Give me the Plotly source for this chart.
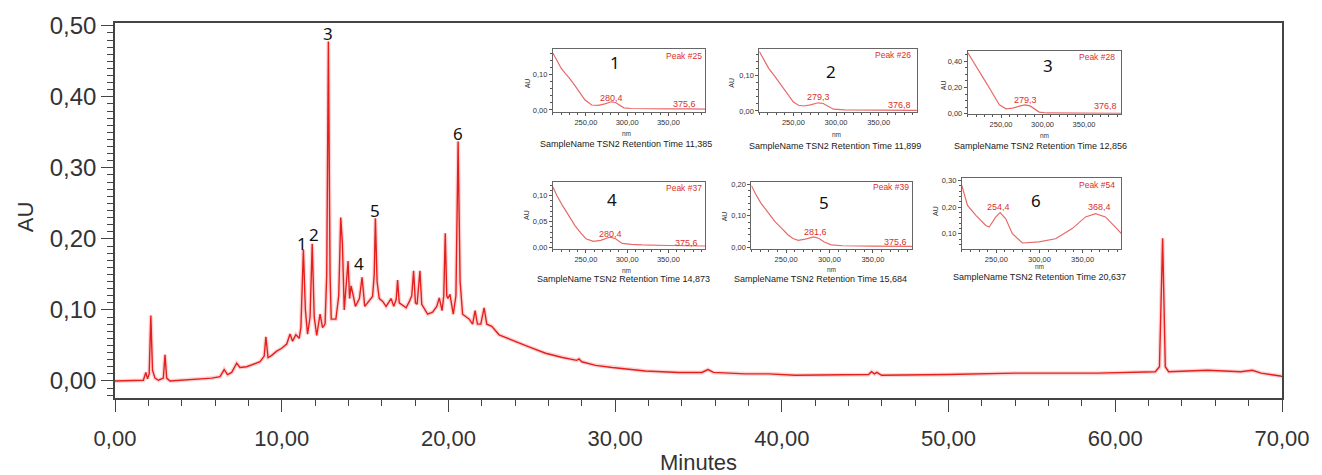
import plotly.graph_objects as go

# ---------------- main chromatogram data (minutes, AU) ----------------
time_min = [0.0, 1.0, 1.7, 1.85, 1.95, 2.05, 2.15, 2.25, 2.4, 2.6, 2.9, 3.0, 3.1, 3.3, 4.0, 5.0,
            5.8, 6.3, 6.55, 6.75, 7.0, 7.3, 7.5, 7.9, 8.3, 8.7, 8.95, 9.05, 9.18, 9.4, 9.7, 10.0,
            10.3, 10.5, 10.65, 10.85, 11.05, 11.15, 11.3, 11.42, 11.55, 11.7, 11.83, 11.95, 12.1,
            12.3, 12.45, 12.6, 12.7, 12.8, 12.9, 12.97, 13.25, 13.42, 13.54, 13.64, 13.75, 13.86,
            13.98, 14.07, 14.16, 14.3, 14.42, 14.66, 14.82, 14.98, 15.26, 15.45, 15.55, 15.62,
            15.72, 15.85, 16.06, 16.26, 16.56, 16.72, 16.87, 16.95, 17.05, 17.46, 17.66, 17.8,
            17.91, 18.02, 18.12, 18.29, 18.4, 18.75, 19.05, 19.3, 19.45, 19.62, 19.72, 19.81,
            19.9, 19.97, 20.09, 20.29, 20.45, 20.58, 20.7, 20.85, 21.25, 21.45, 21.6, 21.74,
            21.94, 22.14, 22.3, 22.6, 23.04, 23.84, 24.83, 25.83, 26.83, 27.7, 27.83, 28.0,
            28.83, 29.82, 31.82, 33.81, 35.2, 35.57, 35.9, 37.8, 39.2, 40.8, 43.8, 45.2, 45.38,
            45.55, 45.7, 45.98, 50.0, 53.96, 58.95, 62.4, 62.65, 62.84, 63.0, 63.2, 65.53,
            67.52, 68.22, 68.75, 69.9, 70.0]
au = [0.000, 0.000, 0.001, 0.012, 0.003, 0.010, 0.092, 0.015, 0.004, 0.001, 0.004, 0.037, 0.004,
      0.000, 0.001, 0.002, 0.004, 0.006, 0.016, 0.009, 0.012, 0.025, 0.019, 0.020, 0.023, 0.027,
      0.035, 0.062, 0.033, 0.036, 0.042, 0.046, 0.052, 0.066, 0.056, 0.065, 0.060, 0.075, 0.185,
      0.100, 0.066, 0.090, 0.193, 0.090, 0.064, 0.094, 0.075, 0.080, 0.150, 0.478, 0.150, 0.087,
      0.087, 0.120, 0.230, 0.194, 0.100, 0.141, 0.169, 0.116, 0.134, 0.119, 0.105, 0.116, 0.146,
      0.105, 0.113, 0.119, 0.150, 0.229, 0.140, 0.116, 0.112, 0.105, 0.116, 0.105, 0.115, 0.142,
      0.110, 0.103, 0.112, 0.120, 0.155, 0.110, 0.108, 0.155, 0.108, 0.094, 0.097, 0.105, 0.117,
      0.099, 0.120, 0.208, 0.120, 0.116, 0.122, 0.094, 0.120, 0.337, 0.140, 0.094, 0.087, 0.080,
      0.099, 0.080, 0.080, 0.103, 0.080, 0.077, 0.065, 0.057, 0.048, 0.039, 0.033, 0.029, 0.031,
      0.027, 0.022, 0.019, 0.014, 0.012, 0.012, 0.016, 0.012, 0.010, 0.010, 0.008, 0.008, 0.009,
      0.013, 0.010, 0.012, 0.008, 0.009, 0.011, 0.011, 0.013, 0.020, 0.201, 0.020, 0.013, 0.015,
      0.013, 0.015, 0.011, 0.007, 0.006]

peak_labels = ["1", "2", "3", "4", "5", "6"]
peak_label_t = [11.21, 11.91, 12.8, 14.66, 15.62, 20.6]
peak_label_au = [0.194, 0.206, 0.489, 0.165, 0.240, 0.349]

x_ticks = [0, 10, 20, 30, 40, 50, 60, 70]
y_ticks = [0.0, 0.1, 0.2, 0.3, 0.4, 0.5]

# ---------------- inset UV spectra (nm, AU) ----------------
spec1_nm = [210, 215, 220, 225, 230, 237, 243, 249, 257, 265, 273, 281, 286, 290, 296, 305, 320, 350, 375, 395]
spec1_au = [0.161, 0.140, 0.118, 0.103, 0.090, 0.068, 0.048, 0.028, 0.014, 0.013, 0.017, 0.023, 0.021,
            0.015, 0.006, 0.004, 0.003, 0.003, 0.003, 0.002]
spec2_nm = [210, 215, 221, 228, 235, 240, 246, 250, 256, 262, 270, 279, 285, 290, 297, 310, 340, 377, 395]
spec2_au = [0.167, 0.145, 0.120, 0.098, 0.075, 0.060, 0.040, 0.025, 0.016, 0.014, 0.017, 0.023, 0.021,
            0.014, 0.005, 0.003, 0.002, 0.002, 0.002]
spec3_nm = [210, 217, 224, 230, 236, 242, 248, 256, 264, 272, 279, 285, 290, 296, 305, 340, 377, 395]
spec3_au = [0.464, 0.395, 0.324, 0.258, 0.196, 0.130, 0.069, 0.038, 0.043, 0.058, 0.068, 0.060, 0.040,
            0.013, 0.006, 0.005, 0.005, 0.004]
spec4_nm = [210, 215, 221, 228, 237, 244, 250, 259, 268, 275, 280, 286, 294, 305, 318, 350, 376, 395]
spec4_au = [0.117, 0.100, 0.083, 0.064, 0.042, 0.028, 0.017, 0.012, 0.014, 0.018, 0.020, 0.017, 0.008,
            0.006, 0.005, 0.004, 0.004, 0.003]
spec5_nm = [210, 215, 221, 229, 237, 245, 252, 258, 264, 272, 282, 288, 294, 302, 315, 350, 376, 395]
spec5_au = [0.196, 0.168, 0.140, 0.110, 0.082, 0.060, 0.040, 0.028, 0.022, 0.026, 0.033, 0.028, 0.017,
            0.008, 0.005, 0.004, 0.004, 0.003]
spec6_nm = [210, 216.6, 226.3, 237.8, 241.7, 249.4, 254.4, 260.9, 268.6, 280.2, 299.4, 318.7, 338,
            353.4, 365, 376.5, 388, 395]
spec6_au = [0.281, 0.206, 0.169, 0.131, 0.125, 0.163, 0.179, 0.156, 0.100, 0.065, 0.069, 0.081, 0.119,
            0.163, 0.175, 0.163, 0.125, 0.100]

inset_numbers = ["1", "2", "3", "4", "5", "6"]
inset_peak_ids = ["Peak #25", "Peak #26", "Peak #28", "Peak #37", "Peak #39", "Peak #54"]
inset_retention = ["11,385", "11,899", "12,856", "14,873", "15,684", "20,637"]
inset_max_a = ["280,4", "279,3", "279,3", "280,4", "281,6", "254,4"]
inset_max_b = ["375,6", "376,8", "376,8", "375,6", "375,6", "368,4"]
inset_nm_ticks = [250, 300, 350]
inset_y_ticks = [[0.0, 0.1], [0.0, 0.1], [0.0, 0.2, 0.4], [0.0, 0.05, 0.1], [0.0, 0.1, 0.2], [0.1, 0.2, 0.3]]

spectra = [(spec1_nm, spec1_au), (spec2_nm, spec2_au), (spec3_nm, spec3_au),
           (spec4_nm, spec4_au), (spec5_nm, spec5_au), (spec6_nm, spec6_au)]

# ---------------- layout geometry (pixels) ----------------
W, H = 1322, 475
L, R, T, B = 115, 37, 19, 77
PW, PH = W - L - R, H - T - B


def px2p(px, py):
    return (px - L) / PW, (H - B - py) / PH


# inset boxes: x0, x1, y0(top), y1(bottom), y range, minor dtick
inset_boxes = [
    dict(x0=554, x1=707, y0=45, y1=109, yr=[-0.006, 0.173], ym=0.02),
    dict(x0=761, x1=919, y0=45, y1=109, yr=[-0.003, 0.175], ym=0.02),
    dict(x0=970, x1=1124, y0=47, y1=111, yr=[-0.002, 0.480], ym=0.05),
    dict(x0=554, x1=707, y0=180, y1=247, yr=[-0.002, 0.126], ym=0.01),
    dict(x0=753, x1=914, y0=180, y1=247, yr=[-0.004, 0.206], ym=0.02),
    dict(x0=964, x1=1124, y0=176, y1=247, yr=[0.044, 0.308], ym=0.02),
]
# text positions per inset (pixels)
inset_text = [
    dict(num=(616, 59), pk=(685, 52), a=(613, 95), b=(686, 101), au=(528, 80), nm=(628, 131), s=(627, 141)),
    dict(num=(833, 68), pk=(895, 51), a=(820, 94), b=(902, 102), au=(733, 79), nm=(838, 132), s=(837, 143)),
    dict(num=(1050, 62), pk=(1100, 53), a=(1028, 97), b=(1108, 103), au=(945, 82), nm=(1047, 133), s=(1043, 143)),
    dict(num=(613, 197), pk=(685, 186), a=(612, 232), b=(688, 241), au=(528, 213), nm=(628, 269), s=(625, 278)),
    dict(num=(826, 200), pk=(893, 185), a=(817, 230), b=(898, 240), au=(727, 214), nm=(833, 268), s=(822, 278)),
    dict(num=(1038, 198), pk=(1100, 183), a=(1001, 205), b=(1102, 205), au=(938, 209), nm=(1042, 265), s=(1042, 276)),
]

RED = "#e3201e"
SPEC = "#e86a68"
DARK = "#333333"
NUMFONT = "Noto Sans"

fig = go.Figure()

# chromatogram (soft halo + line)
fig.add_trace(go.Scatter(x=time_min, y=au, mode="lines", line=dict(color="rgba(240,60,60,0.22)", width=4),
                         hoverinfo="skip", showlegend=False, xaxis="x", yaxis="y"))
fig.add_trace(go.Scatter(x=time_min, y=au, mode="lines", line=dict(color=RED, width=1.4),
                         showlegend=False, xaxis="x", yaxis="y"))

annotations = []
for lab, t, a in zip(peak_labels, peak_label_t, peak_label_au):
    annotations.append(dict(x=t, y=a, xref="x", yref="y", text=lab, showarrow=False,
                            xanchor="center", yanchor="middle",
                            font=dict(family=NUMFONT, size=17, color="#111")))


def ann(pos, text, size, color, family="Arial", angle=0):
    x, y = px2p(*pos)
    return dict(x=x, y=y, xref="paper", yref="paper", text=text, showarrow=False,
                font=dict(family=family, size=size, color=color), textangle=angle,
                xanchor="center", yanchor="middle")


layout_axes = {}
for i, ((nm, sp), box, tp) in enumerate(zip(spectra, inset_boxes, inset_text)):
    k = i + 2
    xa, ya = f"x{k}", f"y{k}"
    fig.add_trace(go.Scatter(x=nm, y=sp, mode="lines", line=dict(color=SPEC, width=1.2),
                             showlegend=False, xaxis=xa, yaxis=ya))
    dx0, dy1 = px2p(box["x0"], box["y0"])
    dx1, dy0 = px2p(box["x1"], box["y1"])
    layout_axes[f"xaxis{k}"] = dict(
        domain=[dx0, dx1], anchor=ya, range=[210, 395], tickvals=inset_nm_ticks, tickformat=".2f",
        tickfont=dict(family="Arial", size=7.5, color=DARK), ticks="outside", ticklen=3,
        tickcolor="#555", showline=True, linecolor="#666", linewidth=1, mirror=True,
        showgrid=False, zeroline=False,
        minor=dict(tickmode="linear", tick0=200, dtick=10, ticks="outside", ticklen=2, tickcolor="#555"))
    layout_axes[f"yaxis{k}"] = dict(
        domain=[dy0, dy1], anchor=xa, range=box["yr"], tickvals=inset_y_ticks[i], tickformat=".2f",
        tickfont=dict(family="Arial", size=7.5, color=DARK), ticks="outside", ticklen=3,
        tickcolor="#555", showline=True, linecolor="#666", linewidth=1, mirror=True,
        showgrid=False, zeroline=False,
        minor=dict(tickmode="linear", tick0=0, dtick=box["ym"], ticks="outside", ticklen=2, tickcolor="#555"))

    annotations.append(ann(tp["num"], inset_numbers[i], 17, "#111", NUMFONT))
    annotations.append(ann(tp["pk"], inset_peak_ids[i], 8.5, "#d9302c"))
    annotations.append(ann(tp["a"], inset_max_a[i], 9, "#d9302c"))
    annotations.append(ann(tp["b"], inset_max_b[i], 9, "#d9302c"))
    annotations.append(ann(tp["au"], "AU", 7, DARK, angle=-90))
    annotations.append(ann(tp["nm"], "nm", 6.5, DARK))
    annotations.append(ann(tp["s"], f"SampleName TSN2 Retention Time {inset_retention[i]}", 9, "#222"))

# axis titles
annotations.append(ann((700, 463), "Minutes", 22, DARK))
annotations.append(ann((26, 215), "AU", 22, DARK, angle=-90))

fig.update_layout(
    width=W, height=H, autosize=False,
    margin=dict(l=L, r=R, t=T, b=B, pad=0),
    paper_bgcolor="white", plot_bgcolor="white",
    separators=",.",
    showlegend=False,
    xaxis=dict(domain=[0, 1], anchor="y", range=[0, 70], tickvals=x_ticks, tickformat=".2f",
               tickfont=dict(family="Arial", size=22, color=DARK), ticks="outside", ticklen=12,
               tickwidth=1.3, tickcolor="#444", ticklabelstandoff=8,
               showline=True, linecolor="#444", linewidth=1.6, mirror=True, showgrid=False, zeroline=False,
               minor=dict(tickmode="linear", tick0=0, dtick=2, ticks="outside", ticklen=6,
                          tickcolor="#444", tickwidth=1.2)),
    yaxis=dict(domain=[0, 1], anchor="x", range=[-0.024, 0.504], tickvals=y_ticks, tickformat=".2f",
               tickfont=dict(family="Arial", size=24, color=DARK), ticks="outside", ticklen=12,
               tickwidth=1.3, tickcolor="#444",
               showline=True, linecolor="#444", linewidth=1.6, mirror=True, showgrid=False, zeroline=False,
               minor=dict(tickmode="linear", tick0=0, dtick=0.01, ticks="outside", ticklen=6,
                          tickcolor="#444", tickwidth=1.2)),
    annotations=annotations,
    **layout_axes,
)

fig.write_html("out.html")
